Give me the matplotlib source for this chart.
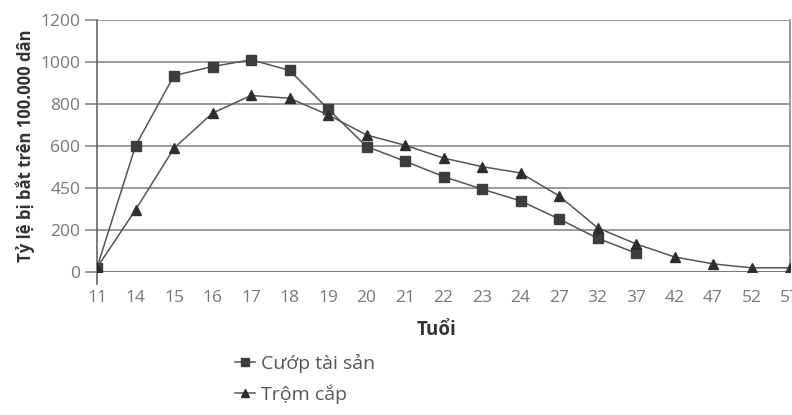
import numpy as np
import matplotlib
matplotlib.use("Agg")
import matplotlib.pyplot as plt

plt.rcParams['font.family'] = ['Open Sans', 'DejaVu Sans']

ages = ['11', '14', '15', '16', '17', '18', '19', '20', '21', '22', '23', '24',
        '27', '32', '37', '42', '47', '52', '57']
cuop = [20, 600, 935, 978, 1010, 960, 776, 597, 527, 454, 394, 338, 252, 160, 89]
trom = [20, 295, 589, 756, 840, 827, 748, 652, 603, 542, 501, 471, 362, 210,
        133, 71, 38, 19, 19]
ytick_vals = [0, 200, 400, 600, 800, 1000, 1200]
ytick_labels = ['0', '200', '450', '600', '800', '1000', '1200']

fig = plt.figure(figsize=(7.92, 4.15), dpi=100)
ax = fig.add_axes([0.1225, 0.345, 0.875, 0.607])

x = np.arange(len(ages))
l1, = ax.plot(x[:len(cuop)], cuop, color='#555555', lw=1.1, marker='s', ms=7.5,
              mfc='#3d3d3d', mec='#3d3d3d', label='Cướp tài sản', zorder=3)
l2, = ax.plot(x, trom, color='#555555', lw=1.1, marker='^', ms=7.5,
              mfc='#2e2e2e', mec='#2e2e2e', label='Trộm cắp', zorder=3)

ax.set_xlim(0, len(ages) - 1)
ax.set_ylim(0, 1200)
ax.set_yticks(ytick_vals)
ax.set_yticklabels(ytick_labels)
ax.set_xticks(x)
ax.set_xticklabels(ages)
ax.grid(axis='y', color='#8a8a8a', lw=1.2)
ax.tick_params(axis='y', length=9, color='#8a8a8a', width=1.2,
               labelcolor='#777777', labelsize=12.5, pad=3)
ax.tick_params(axis='x', length=0, labelcolor='#777777', labelsize=12.5, pad=13)
for s in ['top', 'bottom', 'right', 'left']:
    ax.spines[s].set_visible(False)
ax.axvline(0, ymin=-0.05, ymax=1, color='#666666', lw=1.2, clip_on=False, zorder=2)
ax.axvline(len(ages) - 1, color='#8a8a8a', lw=1.2, clip_on=False)
ax.axhline(0, color='#777777', lw=1.4)

ax.set_ylabel('Tỷ lệ bị bắt trên 100.000 dân', fontsize=12, fontweight='bold',
              color='#333333', labelpad=4)
ax.set_xlabel('Tuổi', fontsize=13.5, fontweight='bold', color='#333333', labelpad=11)
ax.xaxis.set_label_coords(0.49, -0.19)

fig.legend(handles=[l1, l2], loc='upper left', bbox_to_anchor=(0.275, 0.19),
           frameon=False, fontsize=14, handlelength=1.0, handletextpad=0.3,
           labelspacing=0.6, markerscale=0.8, labelcolor='#555555')

fig.savefig('out.png', dpi=100)
